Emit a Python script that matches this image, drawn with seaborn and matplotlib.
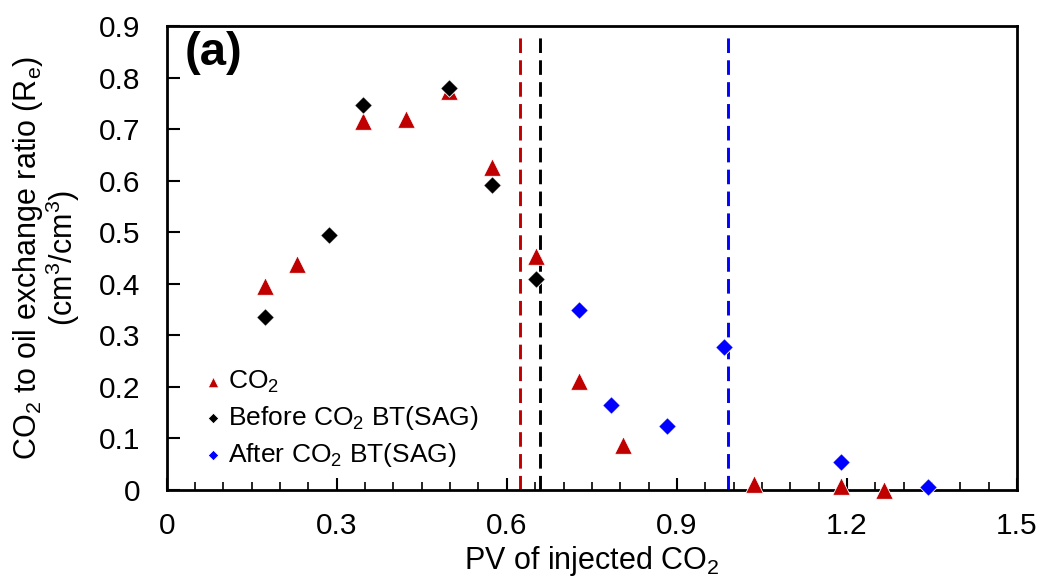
import matplotlib
matplotlib.use("Agg")
import matplotlib.pyplot as plt
import seaborn as sns
import pandas as pd
from matplotlib.ticker import MultipleLocator

# Data
co2_x = [0.173, 0.229, 0.346, 0.422, 0.498, 0.573, 0.651, 0.727, 0.805, 1.036, 1.189, 1.265]
co2_y = [0.395, 0.438, 0.716, 0.720, 0.775, 0.627, 0.454, 0.211, 0.087, 0.012, 0.008, 0.000]
before_x = [0.173, 0.286, 0.346, 0.498, 0.573, 0.651]
before_y = [0.336, 0.495, 0.747, 0.780, 0.592, 0.409]
after_x = [0.727, 0.783, 0.882, 0.983, 1.189, 1.343]
after_y = [0.349, 0.165, 0.124, 0.277, 0.054, 0.006]
bt_lines = [0.623, 0.658, 0.990]
bt_colors = ["#C00000", "#000000", "#0000FF"]
x_ticks = [0, 0.3, 0.6, 0.9, 1.2, 1.5]
x_tick_labels = ["0", "0.3", "0.6", "0.9", "1.2", "1.5"]
y_ticks = [0, 0.1, 0.2, 0.3, 0.4, 0.5, 0.6, 0.7, 0.8, 0.9]
y_tick_labels = ["0", "0.1", "0.2", "0.3", "0.4", "0.5", "0.6", "0.7", "0.8", "0.9"]

sns.set_theme(style="white")
plt.rcParams['font.family'] = ['Liberation Sans', 'DejaVu Sans']
plt.rcParams['text.color'] = 'black'
plt.rcParams['mathtext.fontset'] = 'custom'
plt.rcParams['mathtext.rm'] = 'Liberation Sans'
plt.rcParams['mathtext.it'] = 'Liberation Sans'

fig = plt.figure(figsize=(10.42, 5.84), dpi=100)
ax = fig.add_axes([0.160, 0.161, 0.816, 0.794])

df_co2 = pd.DataFrame({"x": co2_x, "y": co2_y})
df_b = pd.DataFrame({"x": before_x, "y": before_y})
df_a = pd.DataFrame({"x": after_x, "y": after_y})

for xv, c in zip(bt_lines, bt_colors):
    ax.axvline(xv, ymin=0, ymax=0.985, color=c, lw=2.1, dashes=(5, 2.5), zorder=1)

sns.scatterplot(data=df_co2, x="x", y="y", ax=ax, marker="^", s=160, color="#C00000",
                edgecolor="white", linewidth=0.6, label="CO$_2$", clip_on=False, zorder=3)
sns.scatterplot(data=df_b, x="x", y="y", ax=ax, marker="D", s=80, color="#000000",
                edgecolor="white", linewidth=0.6, label="Before CO$_2$ BT(SAG)", clip_on=False, zorder=4)
sns.scatterplot(data=df_a, x="x", y="y", ax=ax, marker="D", s=80, color="#0000FF",
                edgecolor="white", linewidth=0.6, label="After CO$_2$ BT(SAG)", clip_on=False, zorder=4)

ax.set_xlim(0, 1.5)
ax.set_ylim(0, 0.9)
ax.set_xticks(x_ticks)
ax.set_xticklabels(x_tick_labels)
ax.set_yticks(y_ticks)
ax.set_yticklabels(y_tick_labels)
ax.xaxis.set_minor_locator(MultipleLocator(0.05))
ax.tick_params(axis="both", which="major", direction="in", length=9, width=1.5,
               labelsize=21.5, color="black", labelcolor="black")
ax.tick_params(axis="x", which="minor", direction="in", length=6, width=1.2, color="black", bottom=True)
ax.tick_params(axis="x", which="major", bottom=True, pad=16)
ax.tick_params(axis="y", which="major", left=True, pad=19)

for sp in ax.spines.values():
    sp.set_visible(True)
    sp.set_color("black")
    sp.set_linewidth(2.0)

ax.set_xlabel("PV of injected CO$_2$", fontsize=22, color="black", labelpad=3)
ax.set_ylabel("CO$_2$ to oil exchange ratio (R$_e$)\n(cm$^3$/cm$^3$)", fontsize=22,
              color="black", labelpad=12, linespacing=0.95)

ax.text(0.021, 0.99, "(a)", transform=ax.transAxes, fontsize=34, fontweight="bold",
        va="top", ha="left", color="black")

leg = ax.legend(loc="lower left", bbox_to_anchor=(0.027, 0.022), frameon=False, fontsize=19,
                handletextpad=0.05, handlelength=1.0, labelspacing=0.35, markerscale=0.6,
                borderaxespad=0)
for t in leg.get_texts():
    t.set_color("black")

fig.savefig("out.png", dpi=100)
